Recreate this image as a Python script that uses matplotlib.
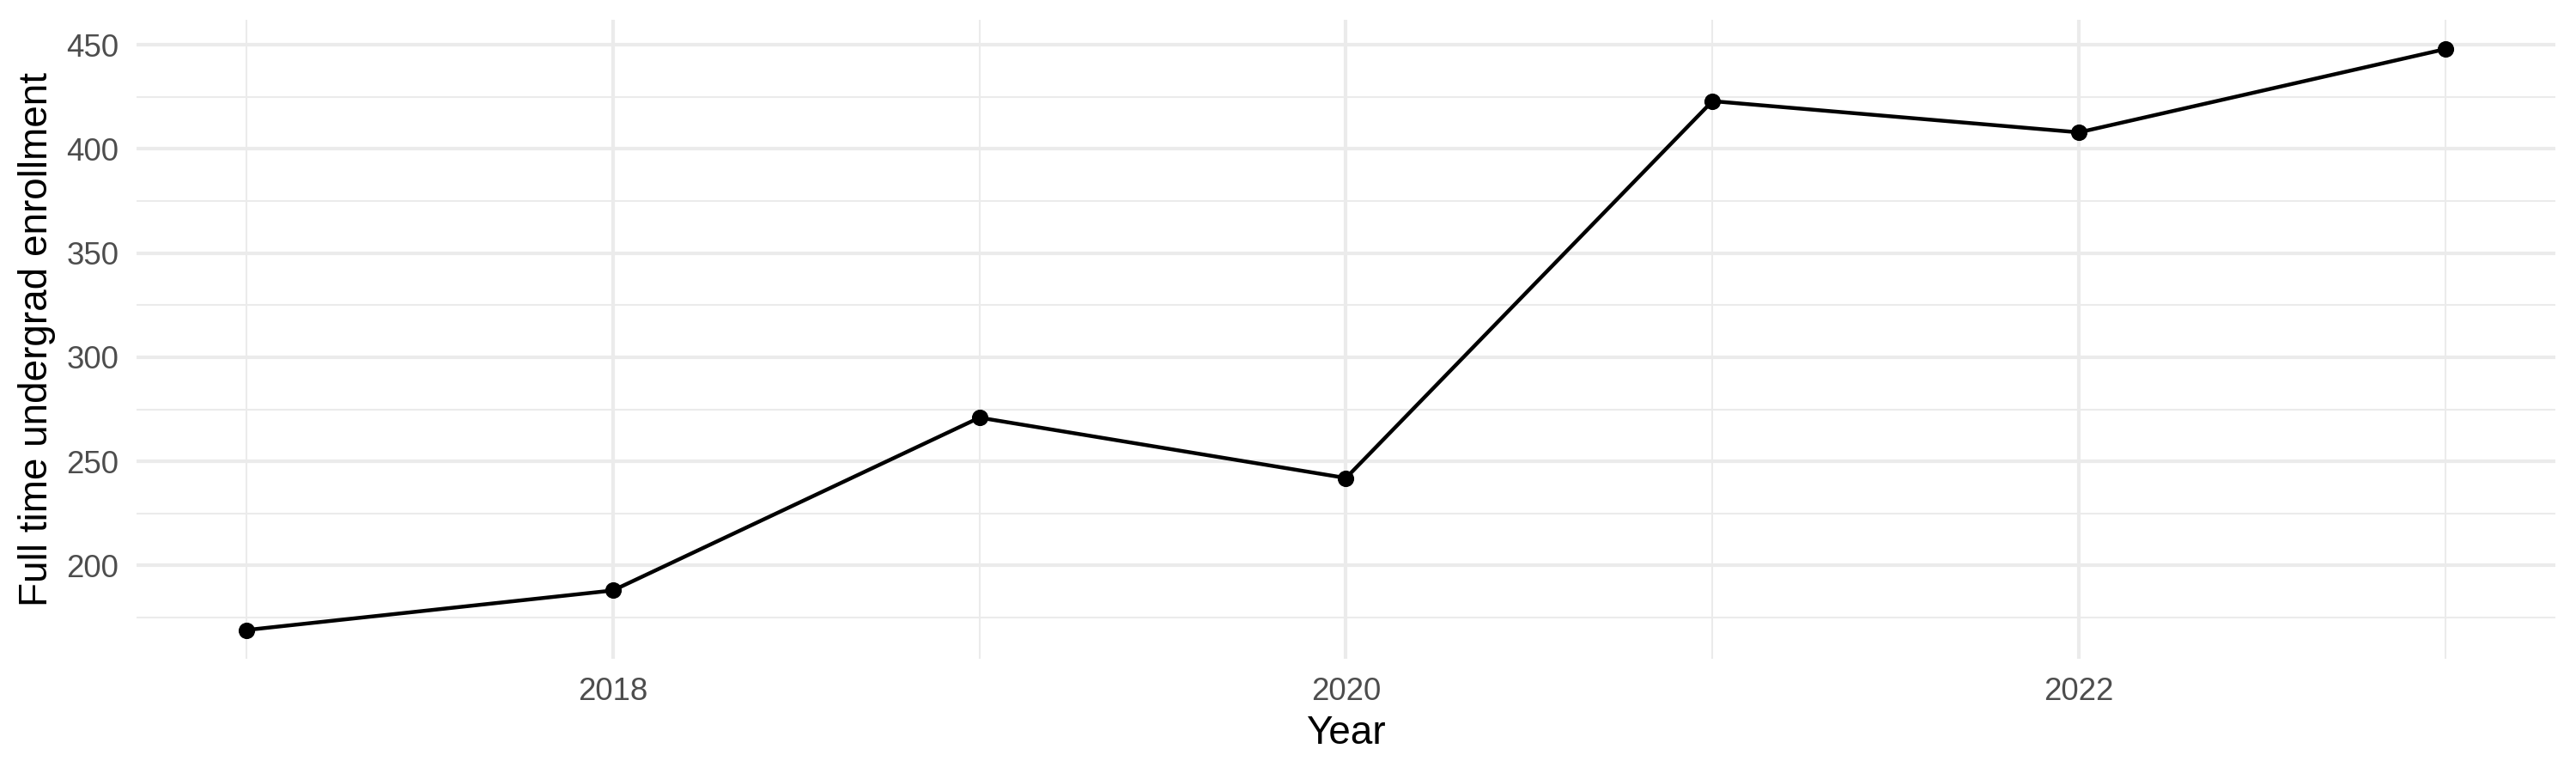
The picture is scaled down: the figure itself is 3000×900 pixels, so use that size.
import matplotlib
matplotlib.use("Agg")
import matplotlib.pyplot as plt
from matplotlib.ticker import MultipleLocator

years = [2017, 2018, 2019, 2020, 2021, 2022, 2023]
enrollment = [169, 188, 271, 242, 423, 408, 448]
x_label = "Year"
y_label = "Full time undergrad enrollment"

plt.rcParams['font.family'] = ['Liberation Sans', 'DejaVu Sans']

fig = plt.figure(figsize=(10, 3), dpi=300)
ax = fig.add_axes([0.053, 0.1474, 0.939, 0.8267])

ax.plot(years, enrollment, color='black', linewidth=1.07, marker='o',
        markersize=4.6, markeredgewidth=0, zorder=3)

ymin, ymax = min(enrollment), max(enrollment)
yr = ymax - ymin
ax.set_ylim(ymin - 0.05 * yr, ymax + 0.05 * yr)
xr = years[-1] - years[0]
ax.set_xlim(years[0] - 0.05 * xr, years[-1] + 0.05 * xr)

ax.xaxis.set_major_locator(MultipleLocator(2))
ax.xaxis.set_minor_locator(MultipleLocator(1))
ax.yaxis.set_major_locator(MultipleLocator(50))
ax.yaxis.set_minor_locator(MultipleLocator(25))

ax.grid(which='major', color='#EBEBEB', linewidth=1.0)
ax.grid(which='minor', color='#EBEBEB', linewidth=0.5)
ax.set_axisbelow(True)
for s in ax.spines.values():
    s.set_visible(False)

ax.tick_params(which='both', length=0)
ax.tick_params(axis='y', labelsize=8.8, labelcolor='#4D4D4D', pad=5)
ax.tick_params(axis='x', labelsize=8.8, labelcolor='#4D4D4D', pad=5.0)

ax.set_xlabel(x_label, fontsize=11, color='black', labelpad=2.2)
ax.set_ylabel(y_label, fontsize=11, color='black', labelpad=3)

fig.savefig("out.png", dpi=300, facecolor='white')
